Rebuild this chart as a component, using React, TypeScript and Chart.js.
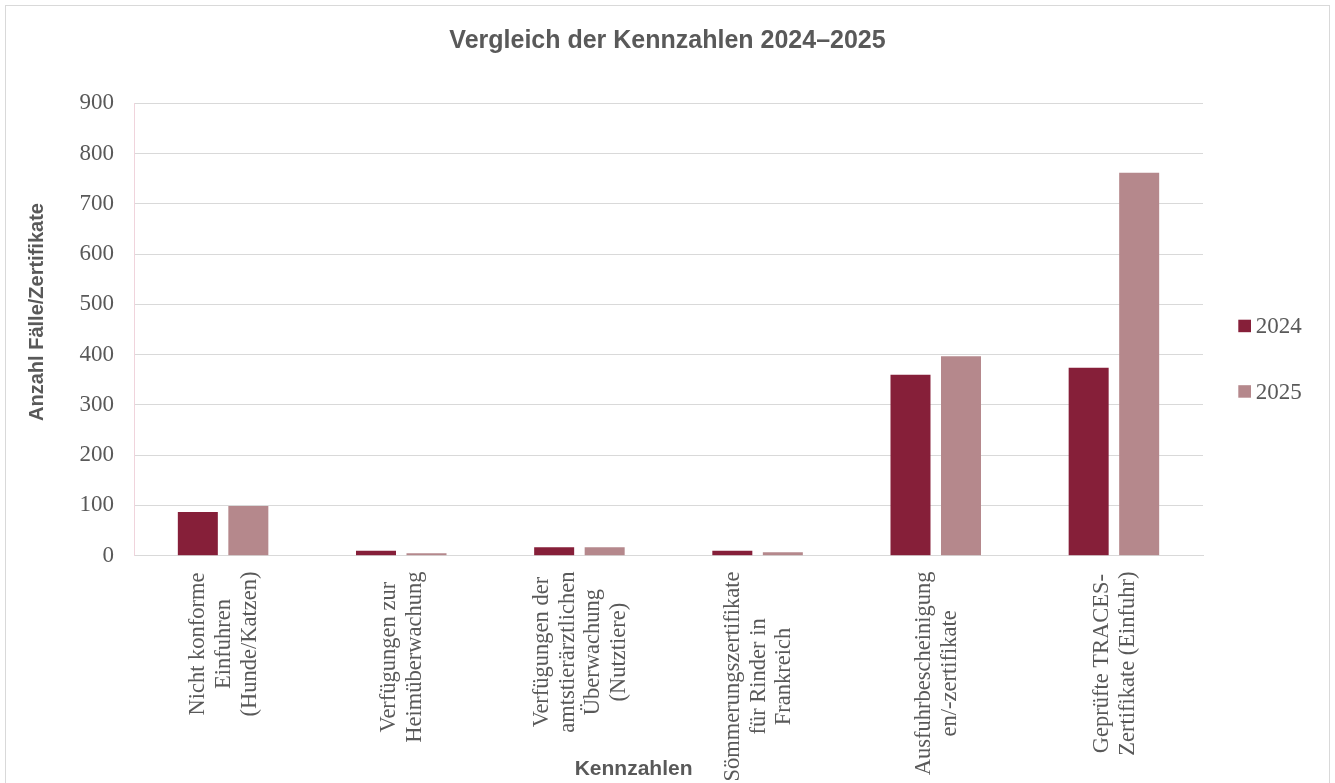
import React, { useEffect, useRef } from 'react';
import { Chart, registerables } from 'chart.js';

Chart.register(...registerables);

const chartTitle = 'Vergleich der Kennzahlen 2024–2025';
const xAxisTitle = 'Kennzahlen';
const yAxisTitle = 'Anzahl Fälle/Zertifikate';

const categories: string[][] = [
  ['Nicht konforme', 'Einfuhren', '(Hunde/Katzen)'],
  ['Verfügungen zur', 'Heimüberwachung'],
  ['Verfügungen der', 'amtstierärztlichen', 'Überwachung', '(Nutztiere)'],
  ['Sömmerungszertifikate', 'für Rinder in', 'Frankreich'],
  ['Ausfuhrbescheinigung', 'en/-zertifikate'],
  ['Geprüfte TRACES-', 'Zertifikate (Einfuhr)'],
];

const seriesNames = ['2024', '2025'];
const values2024 = [87, 10, 17, 10, 360, 374];
const values2025 = [99, 5, 17, 7, 397, 762];

const yMin = 0;
const yMax = 900;
const yStep = 100;

const COLOR_2024 = '#861F39';
const COLOR_2025 = '#B5888C';
const TEXT = '#595959';
const SANS = "'Liberation Sans', Arial, sans-serif";
const SERIF = "'Liberation Serif', 'Times New Roman', serif";

const textPlugin = {
  id: 'customText',
  afterDraw(chart: any) {
    const ctx = chart.ctx as CanvasRenderingContext2D;
    const xs = chart.scales.x;
    ctx.save();
    ctx.fillStyle = TEXT;

    // Title
    ctx.font = `bold 25px ${SANS}`;
    ctx.textAlign = 'center';
    ctx.textBaseline = 'alphabetic';
    ctx.fillText(chartTitle, chart.width / 2, 48);

    // Y axis title
    ctx.save();
    ctx.font = `bold 20px ${SANS}`;
    ctx.translate(42.5, 312);
    ctx.rotate(-Math.PI / 2);
    ctx.textAlign = 'center';
    ctx.fillText(yAxisTitle, 0, 0);
    ctx.restore();

    // X category labels (rotated, centred lines)
    const lineH = 25.7;
    const top = 571.5;
    ctx.font = `22.5px ${SERIF}`;
    categories.forEach((lines, i) => {
      const tx = xs.getPixelForValue(i);
      const maxW = Math.max(...lines.map((l) => ctx.measureText(l).width));
      const cy = top + maxW / 2;
      const n = lines.length;
      lines.forEach((line, j) => {
        const bx = tx + (j - (n - 1) / 2) * lineH + 7;
        ctx.save();
        ctx.translate(bx, cy);
        ctx.rotate(-Math.PI / 2);
        ctx.textAlign = 'center';
        ctx.textBaseline = 'alphabetic';
        ctx.fillText(line, 0, 0);
        ctx.restore();
      });
    });

    // X axis title
    ctx.font = `bold 21px ${SANS}`;
    ctx.textAlign = 'center';
    ctx.textBaseline = 'alphabetic';
    ctx.fillText(xAxisTitle, 633.6, 775);

    // Legend
    const legendColors = [COLOR_2024, COLOR_2025];
    const legendY = [326, 391.5];
    ctx.font = `23px ${SERIF}`;
    ctx.textAlign = 'left';
    seriesNames.forEach((name, i) => {
      ctx.fillStyle = legendColors[i];
      ctx.fillRect(1238.3, legendY[i] - 6.3, 12.7, 12.5);
      ctx.fillStyle = TEXT;
      ctx.fillText(name, 1255.7, legendY[i] + 7);
    });

    ctx.restore();
  },
};

export default function App() {
  const canvasRef = useRef<HTMLCanvasElement | null>(null);

  useEffect(() => {
    document.body.style.overflow = 'hidden';
    const canvas = canvasRef.current;
    if (!canvas) return;
    const chart = new Chart(canvas, {
      type: 'bar',
      data: {
        labels: categories.map((c) => c.join(' ')),
        datasets: [
          {
            label: seriesNames[0],
            data: values2024,
            backgroundColor: COLOR_2024,
            borderWidth: 0,
            categoryPercentage: 0.567,
            barPercentage: 0.792,
          },
          {
            label: seriesNames[1],
            data: values2025,
            backgroundColor: COLOR_2025,
            borderWidth: 0,
            categoryPercentage: 0.567,
            barPercentage: 0.792,
          },
        ],
      },
      options: {
        responsive: true,
        maintainAspectRatio: false,
        animation: false,
        layout: { padding: { left: 0, right: 132, top: 103.3, bottom: 227.3 } },
        plugins: {
          legend: { display: false },
          title: { display: false },
          tooltip: { enabled: false },
        },
        scales: {
          x: {
            grid: { display: false, drawTicks: false },
            border: { display: true, color: '#d9d9d9', width: 1 },
            ticks: { display: false },
            afterFit: (scale: any) => {
              scale.height = 0;
            },
          },
          y: {
            min: yMin,
            max: yMax,
            ticks: {
              stepSize: yStep,
              color: TEXT,
              padding: 20,
              font: { family: SERIF, size: 23 },
            },
            grid: { color: '#d9d9d9', lineWidth: 1, drawTicks: false },
            border: { display: true, color: '#f0d4dc', width: 1 },
            afterFit: (scale: any) => {
              scale.width = 134;
            },
          },
        },
      },
      plugins: [textPlugin],
    });
    return () => chart.destroy();
  }, []);

  return (
    <div style={{ position: 'absolute', left: 0, top: 0, width: 1335, height: 783, background: '#fff' }}>
      <div
        style={{
          position: 'absolute',
          left: 5,
          top: 5,
          width: 1325,
          height: 778,
          border: '1px solid #d9d9d9',
          borderBottom: 'none',
          boxSizing: 'border-box',
        }}
      />
      <canvas ref={canvasRef} style={{ position: 'absolute', left: 0, top: 0 }} />
    </div>
  );
}
